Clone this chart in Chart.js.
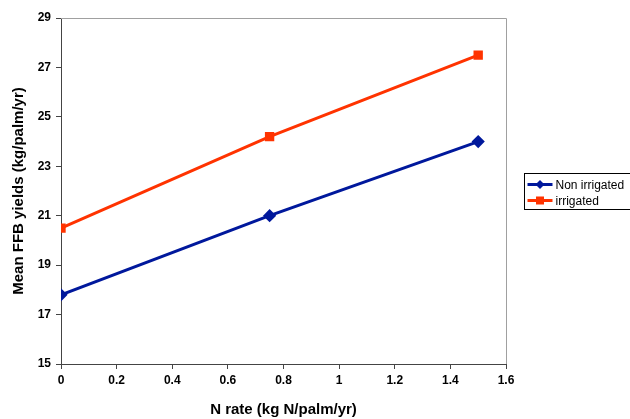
<!DOCTYPE html>
<html>
<head>
<meta charset="utf-8">
<script src="https://cdn.jsdelivr.net/npm/chart.js@4"></script>
<style>
  body { margin: 0; background: #fff; }
  #wrap { width: 630px; height: 419px; }
</style>
</head>
<body>
<div id="wrap"><canvas id="myChart" width="630" height="419"></canvas></div>
<script>
// data
const nRates = [0, 0.75, 1.5]
const nonIrrigated = [17.8, 21.0, 24.0]
const irrigated = [20.5, 24.2, 27.5]
const seriesNames = ['Non irrigated', 'irrigated']

const toXY = (vals) => vals.map((v, i) => ({ x: nRates[i], y: v }))

// frame + legend box like the old excel chart
const framePlugin = {
    id: 'frame',
    beforeDatasetsDraw(chart) {
        const { ctx, chartArea } = chart
        ctx.save()
        ctx.strokeStyle = '#a0a0a0'
        ctx.lineWidth = 1
        ctx.beginPath()
        ctx.moveTo(chartArea.left, chartArea.top + 0.5)
        ctx.lineTo(chartArea.right + 0.5, chartArea.top + 0.5)
        ctx.lineTo(chartArea.right + 0.5, chartArea.bottom)
        ctx.stroke()
        ctx.restore()
    },
    afterDraw(chart) {
        const ctx = chart.ctx
        const bx = 524.5, by = 173.5
        ctx.save()
        ctx.strokeStyle = '#000'
        ctx.lineWidth = 1
        ctx.strokeRect(bx, by, 110, 36)
        chart.data.datasets.forEach((ds, i) => {
            const y = by + 11 + i * 16
            ctx.strokeStyle = ds.borderColor
            ctx.lineWidth = 3
            ctx.beginPath()
            ctx.moveTo(bx + 3, y)
            ctx.lineTo(bx + 28, y)
            ctx.stroke()
            ctx.fillStyle = ds.backgroundColor
            if (ds.pointStyle === 'rect') {
                ctx.fillRect(bx + 15.5 - 4, y - 4, 8, 8)
            } else {
                ctx.beginPath()
                ctx.moveTo(bx + 15.5, y - 4.5)
                ctx.lineTo(bx + 20, y)
                ctx.lineTo(bx + 15.5, y + 4.5)
                ctx.lineTo(bx + 11, y)
                ctx.closePath()
                ctx.fill()
            }
            ctx.fillStyle = '#000'
            ctx.font = '12px Arial, "Liberation Sans"'
            ctx.textBaseline = 'middle'
            ctx.fillText(ds.label, bx + 31, y + 1)
        })
        ctx.restore()
    }
}

const data = {
    datasets: [
        {
            label: seriesNames[0],
            data: toXY(nonIrrigated),
            borderColor: '#00189c',
            backgroundColor: '#00189c',
            borderWidth: 3,
            pointStyle: 'rectRot',
            pointRadius: 4.5,
            pointHoverRadius: 4.5
        },
        {
            label: seriesNames[1],
            data: toXY(irrigated),
            borderColor: '#ff3300',
            backgroundColor: '#ff3300',
            borderWidth: 3,
            pointStyle: 'rect',
            pointRadius: 4.5,
            pointHoverRadius: 4.5
        }
    ]
}

const tickFont = { family: 'Arial, "Liberation Sans"', size: 12, weight: 'bold' }
const titleFont = { family: 'Arial, "Liberation Sans"', size: 15, weight: 'bold' }

const config = {
    type: 'line',
    data: data,
    plugins: [framePlugin],
    options: {
        responsive: false,
        animation: false,
        layout: { padding: { left: 0, top: 18, right: 124, bottom: 0 } },
        plugins: {
            legend: { display: false },
            tooltip: { enabled: false }
        },
        scales: {
            x: {
                type: 'linear',
                min: 0,
                max: 1.6,
                ticks: {
                    stepSize: 0.2,
                    color: '#000',
                    font: tickFont,
                    padding: 4,
                    maxRotation: 0,
                    callback: (v) => +v.toFixed(1)
                },
                grid: { drawOnChartArea: false, tickLength: 5, color: '#444' },
                border: { color: '#444', width: 1 },
                title: { display: true, text: 'N rate (kg N/palm/yr)', color: '#000', font: titleFont, padding: { top: 9, bottom: 0 } },
                afterFit: (s) => { s.height = 55 }
            },
            y: {
                min: 15,
                max: 29,
                ticks: { stepSize: 2, color: '#000', font: tickFont, padding: 5 },
                grid: { drawOnChartArea: false, tickLength: 5, color: '#444' },
                border: { color: '#444', width: 1 },
                title: { display: true, text: 'Mean FFB yields (kg/palm/yr)', color: '#000', font: titleFont, padding: { top: 10, bottom: 0 } },
                afterFit: (s) => { s.width = 61 }
            }
        }
    }
}

const myChart = new Chart(document.getElementById('myChart'), config)
</script>
</body>
</html>
